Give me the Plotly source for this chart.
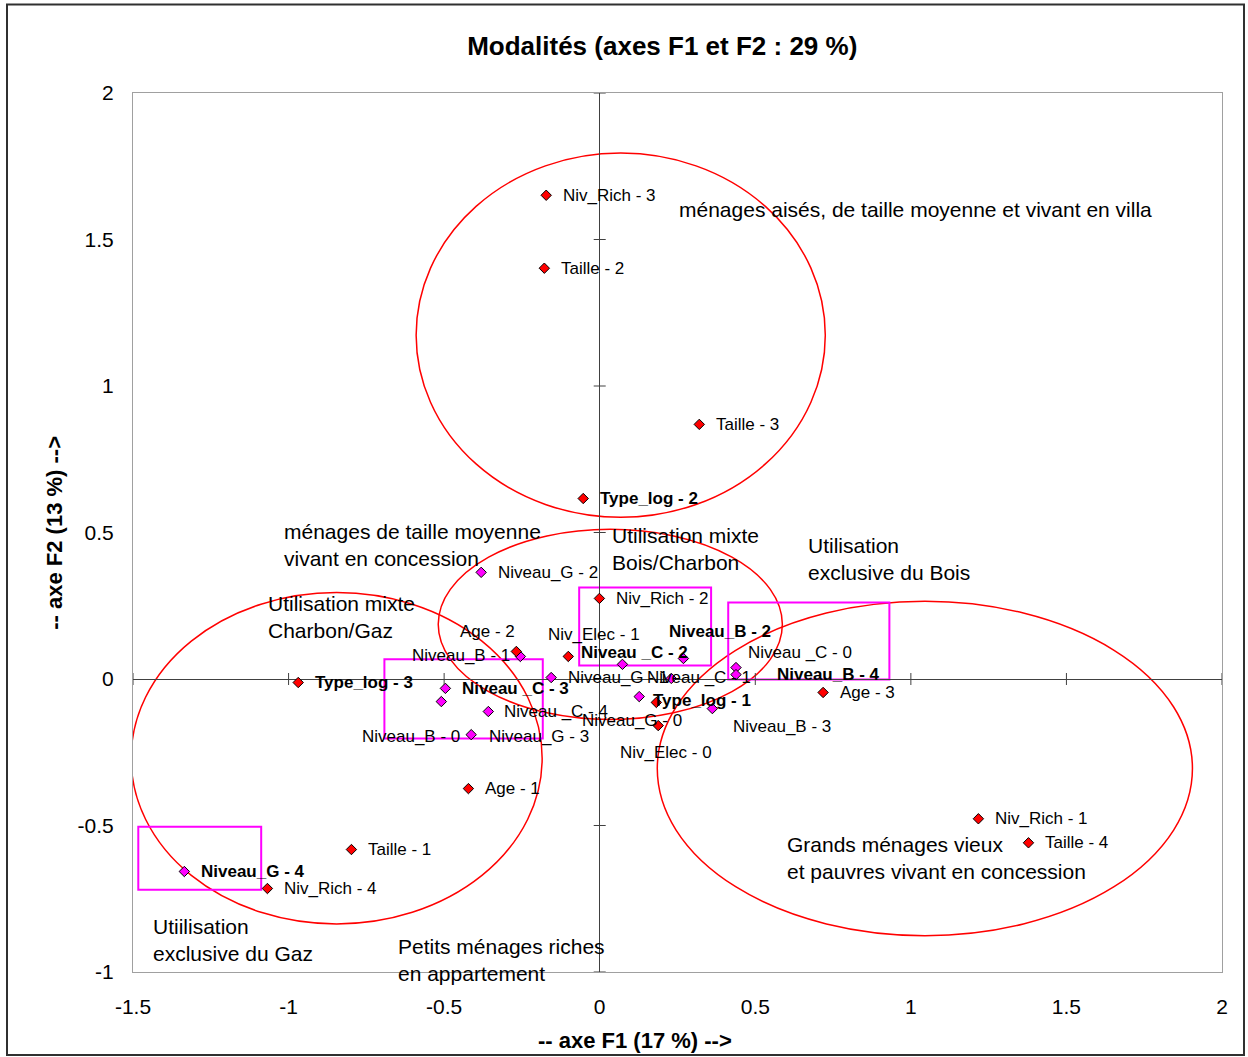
import plotly.graph_objects as go

# ---------------- data ----------------
active_labels = ["Niveau_G - 2", "Niveau_B - 1", "Niveau _C - 2", "Niveau_B - 2", "Niveau_G - 1",
                 "Niveau _C - 1", "Niveau _C - 0", "Niveau_B - 4", "Niveau _C - 3", "Niveau_B - 0",
                 "Niveau _C - 4", "Niveau_G - 3", "Niveau_G - 0", "Niveau_B - 3", "Niveau_G - 4"]
active_x = [-0.381, -0.255, 0.073, 0.269, -0.156, 0.230, 0.438, 0.438, -0.496, -0.509,
            -0.358, -0.413, 0.127, 0.362, -1.335]
active_y = [0.364, 0.077, 0.050, 0.070, 0.005, 0.002, 0.039, 0.015, -0.032, -0.077,
            -0.111, -0.190, -0.060, -0.101, -0.657]

supp_labels = ["Niv_Rich - 3", "Taille - 2", "Taille - 3", "Type_log - 2", "Niv_Rich - 2",
               "Age - 2", "Niv_Elec - 1", "Age - 3", "Type_log - 3", "Type_log - 1",
               "Niv_Elec - 0", "Age - 1", "Taille - 1", "Niv_Rich - 4", "Niv_Rich - 1", "Taille - 4"]
supp_x = [-0.172, -0.178, 0.320, -0.053, -0.001, -0.268, -0.101, 0.718, -0.969, 0.182,
          0.188, -0.422, -0.798, -1.068, 1.217, 1.378]
supp_y = [1.651, 1.402, 0.869, 0.616, 0.275, 0.094, 0.077, -0.046, -0.012, -0.080,
          -0.159, -0.374, -0.582, -0.715, -0.477, -0.559]

bold_labels = {"Type_log - 2", "Type_log - 3", "Type_log - 1", "Niveau_B - 2", "Niveau _C - 2",
               "Niveau_B - 4", "Niveau _C - 3", "Niveau_G - 4"}

x_ticks = [-1.5, -1, -0.5, 0, 0.5, 1, 1.5, 2]
y_ticks = [-1, -0.5, 0, 0.5, 1, 1.5, 2]

# group regions (ellipses and rectangles drawn on the map)
ellipses = [(-0.590, 0.552, 0.725, 1.795),
            (-0.519, -0.138, 0.587, 0.511),
            (-1.506, -0.836, -0.185, 0.295),
            (0.185, -0.876, 1.905, 0.265)]
rects = [(-0.066, 0.046, 0.358, 0.312),
         (0.413, -0.002, 0.931, 0.261),
         (-0.692, -0.203, -0.183, 0.067),
         (-1.483, -0.719, -1.088, -0.504)]

notes = [("ménages aisés, de taille moyenne et vivant en villa", 0.249, 1.601),
         ("ménages de taille moyenne<br>vivant en concession", -1.020, 0.459),
         ("Utilisation mixte<br>Bois/Charbon", 0.034, 0.442),
         ("Utilisation<br>exclusive du Bois", 0.664, 0.410),
         ("Utilisation mixte<br>Charbon/Gaz", -1.072, 0.212),
         ("Grands ménages vieux<br>et pauvres vivant en concession", 0.597, -0.611),
         ("Utiilisation<br>exclusive du Gaz", -1.441, -0.891),
         ("Petits ménages riches<br>en appartement", -0.654, -0.958)]

# label placement (pixel shifts: dx right, dy down, anchor)
label_place = {
    "Age - 2": (1, -20, "right"),
    "Niveau_B - 1": (-8, -1, "right"),
    "Niv_Elec - 1": (-22, -22, "left"),
    "Niveau _C - 2": (-43, -12, "left"),
    "Niveau_B - 2": (-16, -27, "left"),
    "Niveau _C - 1": (-26, -1, "left"),
    "Niveau _C - 0": (10, -15, "left"),
    "Niveau_B - 4": (39, 0, "left"),
    "Niveau_B - 0": (21, 35, "right"),
    "Niveau _C - 4": (14, 0, "left"),
    "Niveau_G - 3": (16, 2, "left"),
    "Niveau_G - 0": (-59, 24, "left"),
    "Type_log - 1": (-5, -2, "left"),
    "Niveau_B - 3": (19, 18, "left"),
    "Niv_Elec - 0": (-40, 27, "left"),
}

FONT = "Liberation Sans, Arial, sans-serif"

fig = go.Figure()

shapes = []
for (x0, y0, x1, y1) in ellipses:
    shapes.append(dict(type="circle", xref="x", yref="y", x0=x0, y0=y0, x1=x1, y1=y1,
                       line=dict(color="#FF0000", width=1.5), layer="below"))
for (x0, y0, x1, y1) in rects:
    shapes.append(dict(type="rect", xref="x", yref="y", x0=x0, y0=y0, x1=x1, y1=y1,
                       line=dict(color="#FF00FF", width=2), layer="below"))
# cross tick marks on the zero axes
for v in x_ticks:
    if v != 0:
        shapes.append(dict(type="line", xref="x", yref="y", x0=v, x1=v, ysizemode="pixel",
                           yanchor=0, y0=-6, y1=6, line=dict(color="#404040", width=1)))
for v in y_ticks:
    if v != 0:
        shapes.append(dict(type="line", xref="x", yref="y", y0=v, y1=v, xsizemode="pixel",
                           xanchor=0, x0=-6, x1=6, line=dict(color="#404040", width=1)))
# outer frame
shapes.append(dict(type="rect", xref="paper", yref="paper", x0=-0.1157, x1=1.0202,
                   y0=-0.0945, y1=1.1007, line=dict(color="#303030", width=2)))

fig.add_trace(go.Scatter(x=active_x, y=active_y, mode="markers",
                         marker=dict(symbol="diamond", size=8, color="#FF00FF",
                                     line=dict(color="black", width=1)),
                         hovertext=active_labels, showlegend=False))
fig.add_trace(go.Scatter(x=supp_x, y=supp_y, mode="markers",
                         marker=dict(symbol="diamond", size=8, color="#FF0000",
                                     line=dict(color="black", width=1)),
                         hovertext=supp_labels, showlegend=False))

annotations = []
for lab, x, y in list(zip(active_labels, active_x, active_y)) + list(zip(supp_labels, supp_x, supp_y)):
    dx, dy, anc = label_place.get(lab, (15, 0, "left"))
    txt = f"<b>{lab}</b>" if lab in bold_labels else lab
    annotations.append(dict(x=x, y=y, xref="x", yref="y", text=txt, showarrow=False,
                            xanchor=anc, yanchor="middle", xshift=dx, yshift=-dy,
                            font=dict(family=FONT, size=17, color="black")))
for txt, x, y in notes:
    annotations.append(dict(x=x, y=y, xref="x", yref="y", text=txt, showarrow=False,
                            xanchor="left", yanchor="middle", align="left",
                            font=dict(family=FONT, size=21, color="black")))
annotations.append(dict(x=0.461, y=-0.0774, xref="paper", yref="paper",
                        text="<b>-- axe F1 (17 %) --></b>", showarrow=False,
                        xanchor="center", yanchor="middle",
                        font=dict(family=FONT, size=22, color="black")))
annotations.append(dict(x=-0.0716, y=0.4997, xref="paper", yref="paper",
                        text="<b>-- axe F2 (13 %) --></b>", showarrow=False, textangle=-90,
                        xanchor="center", yanchor="middle",
                        font=dict(family=FONT, size=22, color="black")))

fig.update_layout(
    width=1248, height=1057,
    margin=dict(l=133, r=26, t=93, b=85),
    paper_bgcolor="white", plot_bgcolor="white",
    title=dict(text="<b>Modalités (axes F1 et F2 : 29 %)</b>", x=0.486, xref="paper",
               xanchor="center", y=0.957, yanchor="middle",
               font=dict(family=FONT, size=26, color="black")),
    shapes=shapes, annotations=annotations,
    xaxis=dict(range=[-1.5, 2], tickvals=x_ticks, ticktext=[f"{v:g}" for v in x_ticks],
               showgrid=False, zeroline=True, zerolinecolor="#404040", zerolinewidth=1,
               showline=True, linecolor="#A0A0A0", linewidth=1, mirror=True,
               ticks="outside", ticklen=16, tickcolor="rgba(0,0,0,0)",
               tickfont=dict(family=FONT, size=21, color="black")),
    yaxis=dict(range=[-1, 2], tickvals=y_ticks, ticktext=[f"{v:g}" for v in y_ticks],
               showgrid=False, zeroline=True, zerolinecolor="#404040", zerolinewidth=1,
               showline=True, linecolor="#A0A0A0", linewidth=1, mirror=True,
               ticks="outside", ticklen=14, tickcolor="rgba(0,0,0,0)",
               tickfont=dict(family=FONT, size=21, color="black")),
)

fig.write_html("out.html", config={"displayModeBar": False},
               post_script="document.body.style.margin='0';document.body.style.overflow='hidden';")
